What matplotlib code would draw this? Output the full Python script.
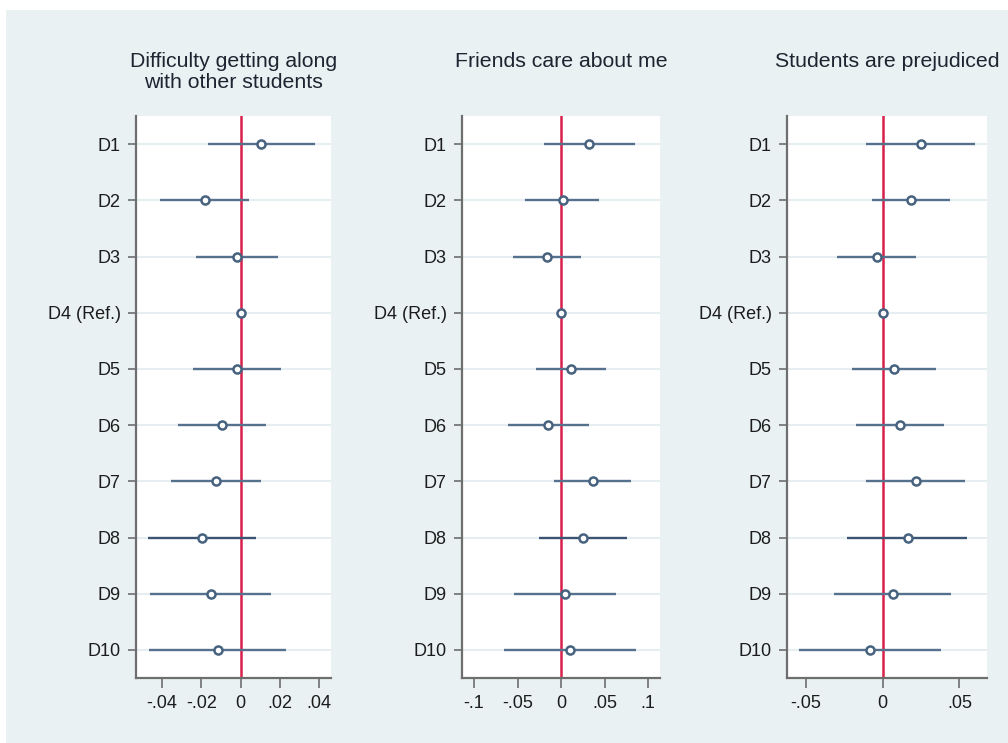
import matplotlib
matplotlib.use("Agg")
import matplotlib.pyplot as plt
from matplotlib.patches import Rectangle

plt.rcParams['font.family'] = ['Liberation Sans', 'DejaVu Sans']

# ---- data ----
labels = ["D1", "D2", "D3", "D4 (Ref.)", "D5", "D6", "D7", "D8", "D9", "D10"]
titles = ["Difficulty getting along\nwith other students",
          "Friends care about me",
          "Students are prejudiced"]

coef_difficulty = [0.0103, -0.0183, -0.0020, 0.0, -0.0019, -0.0095, -0.0124, -0.0195, -0.0153, -0.0117]
lo_difficulty   = [-0.0166, -0.0409, -0.0229, 0.0, -0.0243, -0.0320, -0.0353, -0.0470, -0.0462, -0.0465]
hi_difficulty   = [0.0378, 0.0042, 0.0188, 0.0, 0.0205, 0.0129, 0.0102, 0.0076, 0.0153, 0.0229]

coef_friends = [0.0326, 0.0019, -0.0158, 0.0, 0.0119, -0.0146, 0.0369, 0.0253, 0.0050, 0.0107]
lo_friends   = [-0.0200, -0.0415, -0.0550, 0.0, -0.0285, -0.0607, -0.0080, -0.0258, -0.0538, -0.0657]
hi_friends   = [0.0845, 0.0438, 0.0230, 0.0, 0.0520, 0.0326, 0.0806, 0.0756, 0.0629, 0.0859]

coef_prejudice = [0.0248, 0.0187, -0.0037, 0.0, 0.0074, 0.0113, 0.0219, 0.0165, 0.0065, -0.0081]
lo_prejudice   = [-0.0109, -0.0070, -0.0296, 0.0, -0.0200, -0.0175, -0.0107, -0.0231, -0.0318, -0.0548]
hi_prejudice   = [0.0604, 0.0439, 0.0215, 0.0, 0.0348, 0.0400, 0.0535, 0.0552, 0.0446, 0.0380]

xticks_difficulty = [-0.04, -0.02, 0, 0.02, 0.04]
xticklabels_difficulty = ["-.04", "-.02", "0", ".02", ".04"]
xticks_friends = [-0.1, -0.05, 0, 0.05, 0.1]
xticklabels_friends = ["-.1", "-.05", "0", ".05", ".1"]
xticks_prejudice = [-0.05, 0, 0.05]
xticklabels_prejudice = ["-.05", "0", ".05"]

# ---- layout ----
W, H = 1008, 743
fig = plt.figure(figsize=(W / 100, H / 100), dpi=100)
fig.patch.set_facecolor("white")
bg = "#E9F1F3"
fig.patches.append(Rectangle((6 / W, 0), 1, 1 - 10 / H, transform=fig.transFigure,
                             facecolor=bg, edgecolor="none", zorder=-10))

panels = [
    (136, 331, (-0.0533, 0.046), coef_difficulty, lo_difficulty, hi_difficulty,
     xticks_difficulty, xticklabels_difficulty, titles[0]),
    (462, 660, (-0.1137, 0.1135), coef_friends, lo_friends, hi_friends,
     xticks_friends, xticklabels_friends, titles[1]),
    (787, 987, (-0.0624, 0.068), coef_prejudice, lo_prejudice, hi_prejudice,
     xticks_prejudice, xticklabels_prejudice, titles[2]),
]

top, bottom = 116, 678
line_col = "#56718E"
dark_col = "#3A5472"
text_col = "#1C1C1C"

for left, right, xlim, coef, lo, hi, xt, xtl, title in panels:
    ax = fig.add_axes([left / W, (H - bottom) / H, (right - left) / W, (bottom - top) / H])
    ax.set_facecolor("white")
    ypos = list(range(1, len(labels) + 1))
    for y in ypos:
        ax.axhline(y, color="#E6EEF1", lw=1.5, zorder=0)
    ax.axvline(0, color="#D8204A", lw=1.8, zorder=1)
    for i, y in enumerate(ypos):
        c = dark_col if i == 7 else line_col
        if hi[i] != lo[i]:
            ax.plot([lo[i], hi[i]], [y, y], color=c, lw=1.7, solid_capstyle="butt", zorder=2)
        ax.plot(coef[i], y, marker="o", ms=5.8, mfc="white", mec="#47627F", mew=1.8, zorder=3)
    ax.set_ylim(10.5, 0.5)
    ax.set_xlim(*xlim)
    ax.set_yticks(ypos)
    ax.set_yticklabels(labels, fontsize=13, color=text_col)
    ax.set_xticks(xt)
    ax.set_xticklabels(xtl, fontsize=13, color=text_col)
    for s in ["top", "right"]:
        ax.spines[s].set_visible(False)
    for s in ["left", "bottom"]:
        ax.spines[s].set_color("#6E6E6E")
        ax.spines[s].set_linewidth(1.6)
    ax.tick_params(axis="y", length=6, width=1.2, color="#6E6E6E", pad=5)
    ax.tick_params(axis="x", length=7, width=1.2, color="#6E6E6E", pad=5)
    ax.text(0.5, (bottom - 52) / (bottom - top), title, transform=ax.transAxes,
            ha="center", va="top", fontsize=15.3, color="#1E2430", linespacing=1.12)

fig.savefig("out.png", dpi=100, facecolor=fig.get_facecolor())
